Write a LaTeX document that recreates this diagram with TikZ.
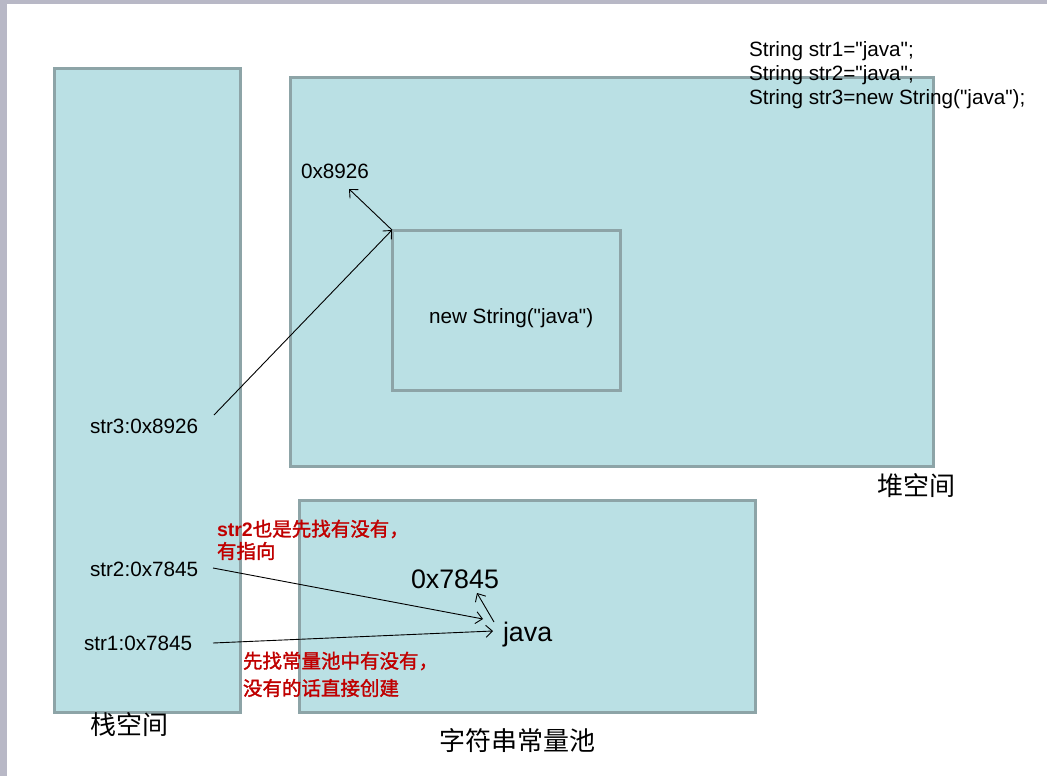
\documentclass[tikz,border=0pt]{standalone}
\usepackage{fontspec}
\setmainfont{Liberation Sans}[Ligatures=TeXOff]
\newfontfamily\cjk{Noto Sans CJK SC}
\newfontfamily\cjkbold{Noto Sans CJK SC}[FakeBold=1.6]
\usetikzlibrary{arrows.meta}
\definecolor{boxfill}{HTML}{BAE0E4}
\definecolor{boxline}{HTML}{8DA4A7}
\definecolor{noteRed}{HTML}{C00000}
\definecolor{frameGray}{HTML}{B8B8C6}
\tikzset{
  membox/.style={draw=boxline, fill=boxfill, line width=3pt, inner sep=0pt, outer sep=0pt, anchor=north west},
  txt/.style={inner sep=0pt, outer sep=0pt, anchor=base west, font=\fontsize{20.7}{24}\selectfont},
  bigtxt/.style={inner sep=0pt, outer sep=0pt, anchor=base west, font=\fontsize{26.8}{30}\selectfont},
  cjklabel/.style={inner sep=0pt, outer sep=0pt, anchor=center, font=\cjk\fontsize{26}{30}\selectfont},
  note/.style={inner sep=0pt, outer sep=0pt, anchor=west, text=noteRed, font=\cjkbold\fontsize{19.5}{22}\selectfont},
  link/.style={draw=black, line width=0.9pt, -{Straight Barb[length=6.5pt,width=12pt]}}
}
\begin{document}
\begin{tikzpicture}[x=1pt,y=-1pt]
\useasboundingbox (0,0) rectangle (1047,776);
\fill[white] (0,0) rectangle (1047,776);
\fill[frameGray] (0,0) rectangle (1047,4);
\fill[frameGray] (0,0) rectangle (7,776);

% boxes
\node[membox, minimum width=186pt, minimum height=643pt] (stack) at (54,69) {};
\node[membox, minimum width=643pt, minimum height=388pt] (heap) at (290,78) {};
\node[membox, minimum width=228pt, minimum height=160pt] (inner) at (392,230) {};
\node[membox, minimum width=456pt, minimum height=212pt] (pool) at (299,500) {};

% code
\node[txt] (c1) at (749,57) {String str1="java";};
\node[txt] (c2) at (749,80.5) {String str2="java";};
\node[txt] (c3) at (749,104) {String str3=new String("java");};

% heap texts
\node[txt] (h0) at (301,178) {0x8926};
\node[txt] (ns) at (429,323) {new String("java")};

% stack texts
\node[txt] (s3) at (90,433) {str3:0x8926};
\node[txt] (s2) at (90,576) {str2:0x7845};
\node[txt] (s1) at (84,650) {str1:0x7845};

% pool texts
\node[bigtxt] (p0) at (411,588) {0x7845};
\node[bigtxt] (jv) at (503,641) {java};

% area labels
\node[cjklabel] (lstack) at (129.5,725) {栈空间};
\node[cjklabel] (lpool) at (517,741) {字符串常量池};
\node[cjklabel] (lheap) at (916.5,486) {堆空间};

% red notes
\node[note] (n1) at (217,529) {{\fontspec{Liberation Sans}\bfseries str2}也是先找有没有，};
\node[note] (n2) at (217,551) {有指向};
\node[note] (n3) at (243,661) {先找常量池中有没有，};
\node[note] (n4) at (243,688) {没有的话直接创建};

% connector ends
\coordinate (a3s) at (214,415);
\coordinate (t89) at (349,189);
\coordinate (a2s) at (213,568);
\coordinate (a2e) at (483,619);
\coordinate (a1s) at (213,643);
\coordinate (a1e) at (493,631);
\coordinate (jvs) at (494,622);
\coordinate (jve) at (477,593);

\draw[link] (a3s) -- (inner.north west);
\draw[link] (inner.north west) -- (t89);
\draw[link] (a2s) -- (a2e);
\draw[link] (a1s) -- (a1e);
\draw[link] (jvs) -- (jve);
\end{tikzpicture}
\end{document}
